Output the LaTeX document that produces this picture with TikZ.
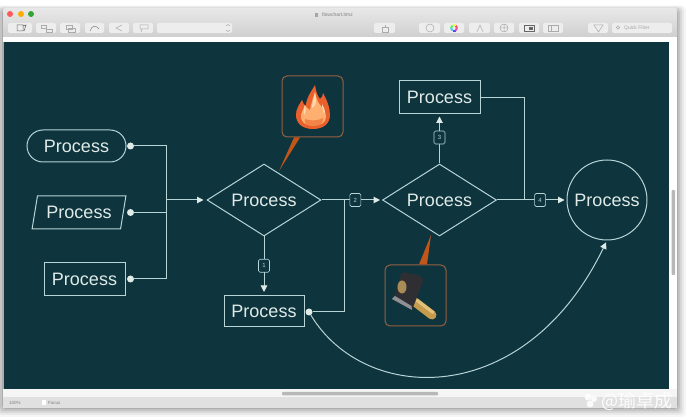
\documentclass[tikz,border=0pt]{standalone}
\usepackage{fontspec}
\setmainfont{Liberation Sans}
\newfontfamily\cjkfont{Noto Sans CJK SC}
\usetikzlibrary{shapes.geometric,arrows.meta,calc}
\definecolor{canvas}{HTML}{0E343E}
\definecolor{ink}{HTML}{B7D4D6}
\definecolor{txt}{HTML}{E0EBE7}
\definecolor{callout}{HTML}{96603F}
\definecolor{tail}{HTML}{C2561A}
\definecolor{btn}{HTML}{EDEDED}
\definecolor{ico}{HTML}{ABABAB}
\definecolor{flameout}{HTML}{E9602C}
\definecolor{flamein}{HTML}{FFB070}
\definecolor{flamepale}{HTML}{FFD9B0}
\definecolor{handle}{HTML}{C59C4E}
\definecolor{handlelite}{HTML}{E2C27A}
\definecolor{head}{HTML}{2E2E33}
\definecolor{headedge}{HTML}{8D9095}
\definecolor{headspot}{HTML}{A98C55}
\tikzset{
  lineink/.style={draw=ink,line width=1pt},
  proc/.style={lineink,text=txt,font=\fontsize{18}{20}\selectfont,inner sep=0pt,align=center},
  boxnode/.style={proc,rectangle,minimum width=81pt,minimum height=33pt},
  dianode/.style={proc,diamond,aspect=1.58,minimum width=114pt,minimum height=72pt},
  dotnode/.style={circle,fill=txt,draw=none,minimum size=7pt,inner sep=0pt},
  numnode/.style={draw=ink,line width=0.6pt,fill=canvas,text=ink,rounded corners=1.5pt,minimum width=11pt,minimum height=13pt,inner sep=0pt,font=\fontsize{6}{6}\selectfont},
  calloutnode/.style={draw=callout,line width=1pt,rounded corners=5pt,minimum size=61pt,inner sep=0pt},
  wire/.style={lineink},
  tip/.style={wire,-{Triangle[length=6.5pt,width=6.5pt,fill=txt,color=txt]}},
  barbtn/.style={fill=btn,draw=none,rounded corners=1.5pt},
  barico/.style={draw=ico,line width=0.5pt},
  uitext/.style={text=black!50,inner sep=0pt,font=\fontsize{5}{6}\selectfont},
}
\begin{document}
\begin{tikzpicture}[x=1pt,y=-1pt]
\useasboundingbox (0,0) rectangle (689,419);
\fill[white] (0,0) rectangle (689,419);
% soft window shadow
\foreach \g/\o in {9/.035,7/.05,5/.07,3/.09,1/.12}{
  \fill[black,opacity=\o,rounded corners=4pt] (3-\g,10-\g/2) rectangle (677+\g,408+\g);
}
% window chrome
\shade[top color=black!9,bottom color=black!19,rounded corners=2pt] (3,8) rectangle (677,38);
\fill[white] (3,37) rectangle (677,42);
\fill[canvas] (4,42) rectangle (669,389);
\fill[white] (669,42) rectangle (677,397);
\fill[white!96!black] (3,389) rectangle (677,397);
\fill[black!12] (3,397) rectangle (677,408);
% scrollbars
\fill[black!28,rounded corners=1pt] (282,392) rectangle (438,395.5);
\fill[black!28,rounded corners=1pt] (671.5,190) rectangle (675,275);
% traffic lights
\fill[red!65!white] (10,14) circle (3pt);
\fill[orange!65!yellow] (21,14) circle (3pt);
\fill[green!55!black!80] (31,14) circle (3pt);
% title and status
\node[uitext,anchor=west] (title) at (322,15) {flowchart.itmz};
\fill[black!35] (315,13) rectangle (318,17);
\node[uitext,anchor=west,font=\fontsize{4.5}{5}\selectfont] (zoomlabel) at (9,403) {100\%};
\fill[white] (42,400.5) rectangle (46,405.5);
\node[uitext,anchor=west,font=\fontsize{4.5}{5}\selectfont] (focuslabel) at (48,403) {Focus};
% toolbar buttons
\foreach \a/\b in {8/32,36/56,60/80,85/104,109/129,133/153,157/232,374/395,419/440,444/464,469/490,494/514,519/539,543/563,588/608,612/672}{
  \fill[barbtn] (\a,23) rectangle (\b,33);
}
\draw[barico,black!60] (17,25) rectangle (23,31) (23,26) -- (26,25) -- (24,31);
\draw[barico] (41,25) rectangle (46,28) (46,29) rectangle (52,32);
\draw[barico] (66,25) rectangle (72,29) (68,28) rectangle (75,32);
\draw[barico,black!50] (90,31) .. controls (92,25) and (96,25) .. (99,29);
\draw[barico] (122,25) -- (116,28) -- (122,31);
\draw[barico] (140,25) rectangle (148,29) (142,29) -- (141,32);
\draw[barico] (226,26) -- (228,24.5) -- (230,26) (226,30) -- (228,31.5) -- (230,30);
\draw[barico] (382,27) rectangle (388,32) (385,27) -- (385,25);
\draw[barico] (430,28) circle (4pt);
\foreach \c/\s/\e in {red/0/60,yellow/60/120,green/120/180,cyan/180/240,blue/240/300,magenta/300/360}{
  \draw[\c!70!white,line width=2pt] ($(454,28)+(\s:3pt)$) arc[start angle=\s,end angle=\e,radius=3pt];
}
\draw[barico] (477,32) -- (480,25) -- (483,32);
\draw[barico] (504,28) circle (4pt) (500,28) -- (508,28) (504,24) -- (504,32);
\draw[barico,black!60] (524,25) rectangle (534,31);
\fill[black!60] (529,27) rectangle (533,30);
\draw[barico] (548,25) rectangle (558,31) (551,25) -- (551,31);
\draw[barico] (594,25) -- (603,25) -- (598.5,32) -- cycle;
\draw[barico] (618,27.5) circle (1.8pt);
\node[uitext,anchor=west,text=black!35] (quick) at (624,28) {Quick Filter};

% callouts
\node[calloutnode] (fire) at (312.5,106.5) {};
\node[calloutnode] (ham) at (415.5,295.5) {};

% process nodes
\node[proc,rectangle,rounded corners=16pt,minimum width=99pt,minimum height=32pt] (start) at (76.5,146) {Process};
\node[proc,trapezium,trapezium left angle=71.5,trapezium right angle=108.5,minimum width=94pt,minimum height=33pt,trapezium stretches=true] (para) at (79,212.5) {Process};
\node[boxnode] (rect) at (84.5,279) {Process};
\node[dianode] (d1) at (264,200) {Process};
\node[boxnode,minimum width=80pt,minimum height=31pt] (low) at (264,311) {Process};
\node[dianode] (d2) at (439.5,200) {Process};
\node[boxnode] (up) at (439.5,97.5) {Process};
\node[proc,circle,minimum size=80pt] (end) at (607,200) {Process};

% callout tails
\fill[tail] (294,137.5) -- (300,137.5) -- (279,171) -- cycle;
\fill[tail] (419,264.5) -- (427,264.5) -- (431,235) -- cycle;
% flame
\fill[flameout]
  (313,129) .. controls (302,129) and (296,123) .. (296,115)
  .. controls (296,109) and (299,105) .. (302,100)
  .. controls (303,103) and (304,105) .. (306,106)
  .. controls (306,98) and (311,92) .. (315,85)
  .. controls (316,91) and (317,95) .. (320,99)
  .. controls (322,98) and (323,95) .. (323,93)
  .. controls (327,100) and (330,108) .. (330,115)
  .. controls (330,123) and (324,129) .. (313,129) -- cycle;
\fill[flamein]
  (313,126) .. controls (305,126) and (300,121) .. (301,115)
  .. controls (302,111) and (304,108) .. (305,105)
  .. controls (307,108) and (308,109) .. (310,110)
  .. controls (311,104) and (313,98) .. (315,92)
  .. controls (316,98) and (318,103) .. (321,106)
  .. controls (324,110) and (326,113) .. (326,117)
  .. controls (326,122) and (321,126) .. (313,126) -- cycle;
\fill[flameout,opacity=.55] (313,127) .. controls (307,127) and (304,123) .. (305,119)
  .. controls (309,121) and (318,121) .. (323,118) .. controls (324,123) and (319,127) .. (313,127) -- cycle;
\fill[flamepale] (315,92) .. controls (314,98) and (312,103) .. (312,108) .. controls (314,107) and (316,105) .. (316,100) -- cycle;
\fill[flamepale] (305,105) .. controls (304,109) and (303,112) .. (304,115) .. controls (306,113) and (306,109) .. (305,105) -- cycle;
\fill[flamepale] (322,104) .. controls (322,108) and (323,112) .. (325,114) .. controls (325,110) and (324,107) .. (322,104) -- cycle;
% hammer
\draw[line width=9pt,line cap=round,color=handle] (415,302) -- (432,315);
\draw[line width=3pt,line cap=round,color=handlelite] (417,300.5) -- (433,312.5);
\fill[head,rounded corners=2pt] (402,272) -- (418,275) -- (424,279) -- (412,310) -- (393,300) -- cycle;
\fill[headedge] (392,299) -- (412,310) -- (411.5,306) -- (395,296) -- cycle;
\fill[headspot] (402,287) ellipse [x radius=4.5pt,y radius=6.5pt];

% ports and routing points
\node[dotnode] (dota) at (130.5,146) {};
\node[dotnode] (dotb) at (130.5,212.5) {};
\node[dotnode] (dotc) at (130.5,279) {};
\node[dotnode] (dotd) at (309,312) {};
\coordinate (bus) at (166,200);
\coordinate (joinb) at (344,200);
\coordinate (joinc) at (524,200);

% connectors
\draw[wire] (dota) -- (dota -| bus) -- (dotc -| bus) -- (dotc);
\draw[wire] (dotb) -- (dotb -| bus);
\draw[tip,shorten >=3pt] (bus) -- (d1.west);
\draw[tip,shorten >=3pt] (d1.south) -- node[numnode,pos=.5] (n1) {1} (low.north);
\draw[tip,shorten >=2pt] (d1.east) -- node[numnode,pos=.56] (n2) {2} (d2.west);
\draw[wire] (dotd) -- (dotd -| joinb) -- (joinb);
\draw[tip,shorten >=2pt] (d2.north) -- node[numnode,pos=.53] (n3) {3} (up.south);
\draw[wire] (up.east) -| (joinc);
\draw[tip,shorten >=2pt] (d2.east) -- node[numnode,pos=.62] (n4) {4} (end.west);
\draw[tip,shorten >=2pt] (dotd) .. controls (365,405) and (525,410) .. (end.south);

% watermark
\fill[white,opacity=.85] (588,397) circle (3.5pt) (594,399) circle (3pt) (590,404) circle (3.5pt);
\node[text=white,opacity=.92,inner sep=0pt,anchor=east,font=\cjkfont\fontsize{18}{19}\selectfont] (mark) at (673,401) {@瑜卓成};
\end{tikzpicture}
\end{document}
